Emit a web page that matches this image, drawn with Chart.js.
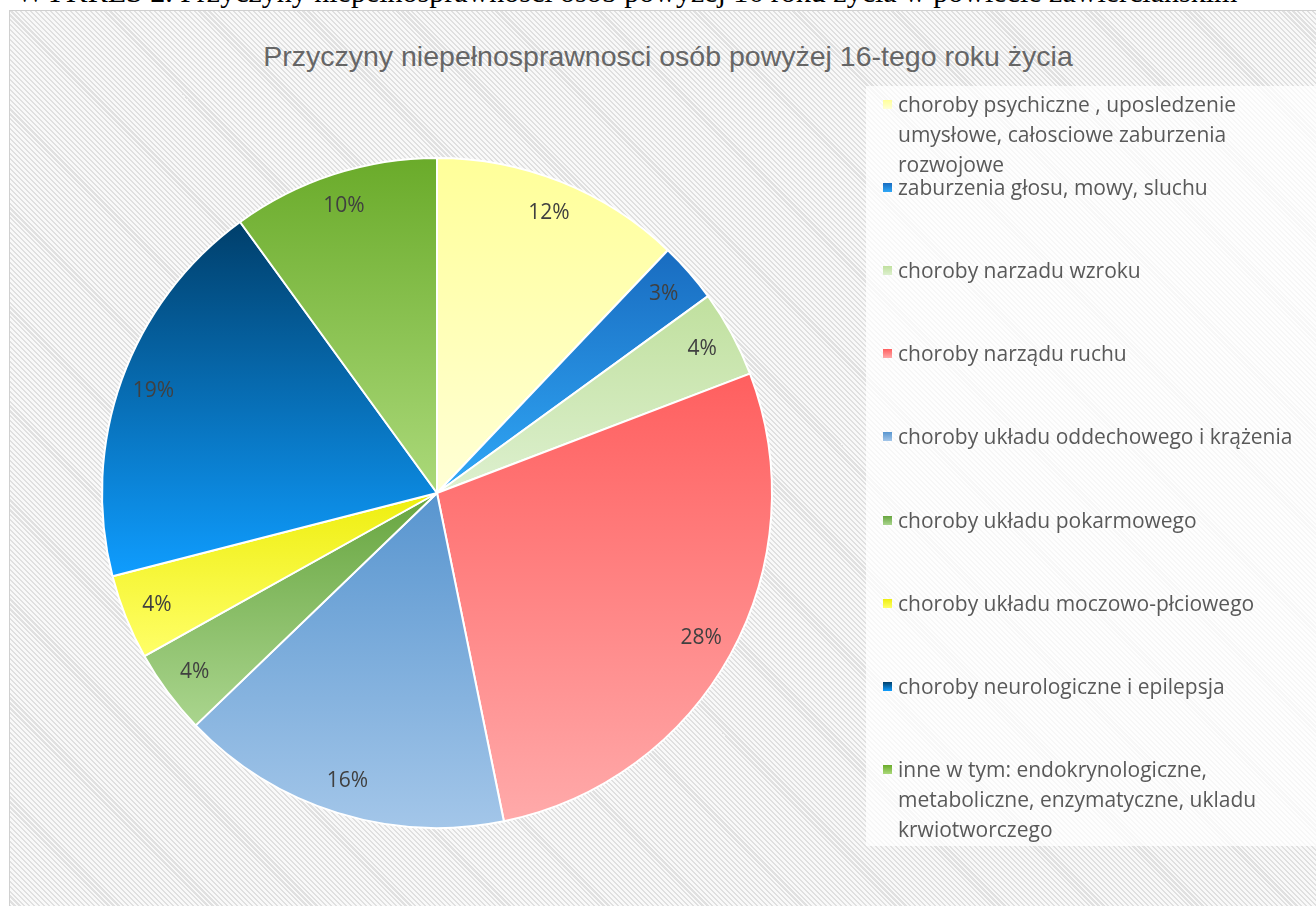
<!DOCTYPE html>
<html lang="pl">
<head>
<meta charset="utf-8">
<script src="https://cdn.jsdelivr.net/npm/chart.js@4.4.1/dist/chart.umd.min.js"></script>
<style>
  html, body { margin: 0; padding: 0; width: 1316px; height: 906px; overflow: hidden; background: #fff; }
  #caption {
    position: absolute; left: 16px; top: -25px; white-space: nowrap;
    font-family: "Liberation Serif", "DejaVu Serif", serif; font-size: 30px; color: #000;
  }
  #frame {
    position: absolute; left: 9px; top: 10px; right: -2px; bottom: -2px;
    border: 1px solid #d0d0d0;
    background: repeating-linear-gradient(45deg, #e0e0e0 0px, #e0e0e0 1.5px, #f9f9f9 1.5px, #f9f9f9 3.5px);
  }
  #title {
    position: absolute; left: 168px; width: 1000px; top: 39px; text-align: center;
    font-family: "Liberation Sans", sans-serif; font-size: 28.5px; line-height: 34px; color: #666;
    white-space: nowrap;
  }
  #legendBox {
    position: absolute; left: 866px; top: 86px; width: 450px; height: 760px;
    background: rgba(255,255,255,0.72);
  }
  .item { position: absolute; left: 883px; font-family: "Open Sans", sans-serif; font-size: 21px; line-height: 30px; color: #595959; white-space: nowrap; }
  .item .sw { position: absolute; left: 0; top: 11px; width: 9px; height: 9px; }
  .item .tx { margin-left: 15px; }
  #wrap { position: absolute; left: 0; top: 0; width: 1316px; height: 906px; }
</style>
</head>
<body>
<div id="caption">WYKRES 2. Przyczyny niepełnosprawności osób powyżej 16 roku życia w powiecie zawierciańskim</div>
<div id="frame"></div>
<div id="title">Przyczyny niepełnosprawnosci osób powyżej 16-tego roku życia</div>
<div id="legendBox"></div>
<div id="wrap"><canvas id="pie" width="1316" height="906"></canvas></div>
<div id="legend"></div>
<script>
// kategorie (legenda, kolejnosc jak na wykresie)
const labels = [
  'choroby psychiczne , uposledzenie umysłowe, całosciowe zaburzenia rozwojowe',
  'zaburzenia głosu, mowy, sluchu',
  'choroby narzadu wzroku',
  'choroby narządu ruchu',
  'choroby układu oddechowego i krążenia',
  'choroby układu pokarmowego',
  'choroby układu moczowo-płciowego',
  'choroby neurologiczne i epilepsja',
  'inne w tym: endokrynologiczne, metaboliczne, enzymatyczne, ukladu krwiotworczego'
];
// legenda - podzial na linie jak w oryginale
const legendLines = [
  ['choroby psychiczne , uposledzenie', 'umysłowe, całosciowe zaburzenia', 'rozwojowe'],
  ['zaburzenia głosu, mowy, sluchu'],
  ['choroby narzadu wzroku'],
  ['choroby narządu ruchu'],
  ['choroby układu oddechowego i krążenia'],
  ['choroby układu pokarmowego'],
  ['choroby układu moczowo-płciowego'],
  ['choroby neurologiczne i epilepsja'],
  ['inne w tym: endokrynologiczne,', 'metaboliczne, enzymatyczne, ukladu', 'krwiotworczego']
];
const shares = [12.1, 2.9, 4.2, 27.6, 16.0, 4.1, 4.1, 19.0, 10.0];
// gradient kazdego wycinka: gora -> dol
const topColors = ['#ffff99', '#196cc0', '#c0e09e', '#ff5f5f', '#5895cf', '#67a53f', '#eeee0e', '#003f6b', '#6aab2a'];
const bottomColors = ['#ffffd6', '#30a8f7', '#ddf0cf', '#ffaaaa', '#a3c6e9', '#aad58e', '#ffff68', '#0f9dff', '#abd97a'];

const BORDER = 2;

function sliceFill(ctx) {
  const i = ctx.dataIndex;
  const chart = ctx.chart;
  const area = chart.chartArea;
  if (!area || ctx.type !== 'data') return topColors[i];
  const cx = (area.left + area.right) / 2;
  const cy = (area.top + area.bottom) / 2;
  const r = (Math.min(area.width, area.height) - BORDER) / 2;
  const total = shares.reduce((a, b) => a + b, 0);
  const before = shares.slice(0, i).reduce((a, b) => a + b, 0);
  const a0 = -Math.PI / 2 + 2 * Math.PI * before / total;
  const a1 = a0 + 2 * Math.PI * shares[i] / total;
  const ys = [cy, cy + r * Math.sin(a0), cy + r * Math.sin(a1)];
  [-Math.PI / 2, Math.PI / 2, 3 * Math.PI / 2].forEach(k => {
    if (k >= a0 && k <= a1) ys.push(cy + r * Math.sin(k));
  });
  const y0 = Math.min(...ys), y1 = Math.max(...ys);
  const g = chart.ctx.createLinearGradient(0, y0, 0, y1 + 0.01);
  g.addColorStop(0, topColors[i]);
  g.addColorStop(1, bottomColors[i]);
  return g;
}

// etykiety procentowe przy krawedzi wycinka
const pctLabels = {
  id: 'pctLabels',
  afterDatasetsDraw(chart) {
    const meta = chart.getDatasetMeta(0);
    const c = chart.ctx;
    const values = chart.data.datasets[0].data;
    c.save();
    c.font = '21px "Open Sans", sans-serif';
    c.fillStyle = '#404040';
    c.textAlign = 'center';
    c.textBaseline = 'middle';
    meta.data.forEach((arc, i) => {
      const p = arc.getProps(['x', 'y', 'startAngle', 'endAngle', 'outerRadius'], true);
      const mid = (p.startAngle + p.endAngle) / 2;
      const rr = p.outerRadius * 0.9;
      c.fillText(Math.round(values[i]) + '%', p.x + rr * Math.cos(mid), p.y + rr * Math.sin(mid));
    });
    c.restore();
  }
};

new Chart(document.getElementById('pie'), {
  type: 'pie',
  data: {
    labels: labels,
    datasets: [{
      data: shares,
      backgroundColor: sliceFill,
      borderColor: '#ffffff',
      borderWidth: BORDER
    }]
  },
  options: {
    responsive: false,
    animation: false,
    layout: { padding: { left: 101, right: 543, top: 157, bottom: 77 } },
    plugins: {
      legend: { display: false },
      tooltip: { enabled: false },
      title: { display: false }
    }
  },
  plugins: [pctLabels]
});

// legenda HTML
const legend = document.getElementById('legend');
legendLines.forEach((lines, i) => {
  const el = document.createElement('div');
  el.className = 'item';
  el.style.top = (104 + i * 83.1 - 15) + 'px';
  const sw = document.createElement('span');
  sw.className = 'sw';
  sw.style.background = 'linear-gradient(' + topColors[i] + ',' + bottomColors[i] + ')';
  el.appendChild(sw);
  const tx = document.createElement('div');
  tx.className = 'tx';
  tx.innerHTML = lines.join('<br>');
  el.appendChild(tx);
  legend.appendChild(el);
});
</script>
</body>
</html>
